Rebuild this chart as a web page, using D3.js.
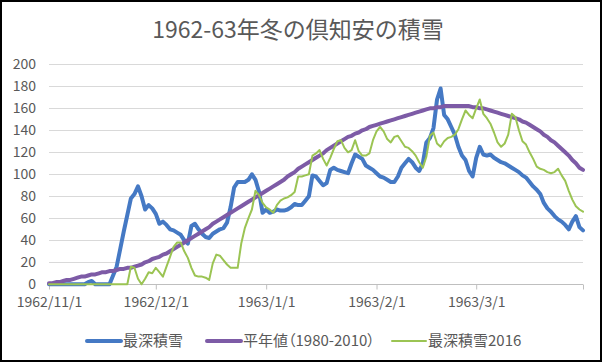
<!DOCTYPE html>
<meta charset="utf-8">
<script src="https://cdn.jsdelivr.net/npm/d3@7"></script>
<style>
  body { margin: 0; background: #fff; }
  text { font-family: "Noto Sans CJK JP", "Noto Sans", sans-serif; }
</style>
<div id="chart"></div>
<script>

// daily data from 1962/11/1 to 1963/3/31
var startDay = new Date(1962, 10, 1);

var seriesNames = ["最深積雪", "平年値（1980-2010）", "最深積雪2016"];

var snow6263 = [
  0,0,0,0,0,0,0,0,0,0, 0,2,3,0,0,0,0,0,8,16,
  32,48,63,78,82,89,80,68,72,69, 64,55,57,54,50,49,47,45,40,37,
  53,55,50,46,43,42,46,48,50,51, 56,70,88,93,93,93,95,100,95,84,
  65,68,65,66,68,67,67,68,70,73, 72,72,76,80,99,98,94,90,92,104,
  106,104,103,102,101,110,118,116,114,108, 106,104,101,98,97,95,93,93,98,106,
  110,114,111,106,103,110,129,133,142,168, 178,154,150,143,136,125,117,113,103,98,
  115,125,118,117,118,115,113,111,110,108, 106,104,102,99,97,93,89,86,82,74,
  69,66,62,59,57,54,50,57,62,52, 49
];

var normal = [
  1,1,2,2,3,4,4,5,6,7, 7,8,9,9,10,11,11,12,12,13,
  14,14,15,15,16,17,18,20,21,23, 24,25,27,28,30,32,34,36,38,40,
  42,44,46,48,50,52,55,57,59,61, 63,65,67,69,71,73,75,77,79,81,
  83,85,87,89,91,93,95,98,100,102, 105,107,109,111,113,115,117,119,122,124,
  126,128,130,132,134,135,137,138,140,141, 143,144,145,146,147,148,149,150,151,152,
  153,154,155,156,157,158,159,160,160,161, 161,162,162,162,162,162,162,162,162,161,
  161,160,160,159,158,157,156,155,154,153, 152,151,150,148,147,145,143,141,139,136,
  134,131,129,126,123,120,117,113,110,106, 104
];

var snow2016 = [
  0,0,0,0,0,0,0,0,0,0, 0,0,0,0,0,0,0,0,0,0,
  0,0,0,16,15,5,0,5,11,10, 15,11,7,16,25,34,38,38,30,24,
  15,8,7,7,6,4,19,27,26,22, 18,15,15,15,37,51,60,68,85,81,
  74,70,68,65,72,76,78,79,81,84, 98,98,99,100,117,119,122,114,108,115,
  123,130,131,124,120,122,131,121,117,117, 119,131,139,143,139,132,129,134,135,130,
  125,124,121,117,111,106,116,135,138,128, 125,130,133,134,136,141,150,158,154,151,
  160,168,155,151,146,138,129,125,128,136, 155,152,140,130,127,120,114,107,105,104,
  102,101,102,105,99,94,85,77,71,68, 66
];

var tickLabels = ["1962/11/1", "1962/12/1", "1963/1/1", "1963/2/1", "1963/3/1"];
var yTicks = [0, 20, 40, 60, 80, 100, 120, 140, 160, 180, 200];

var colors = ["#4579c4", "#7d5ba6", "#9bc453"];
var widths = [4, 4, 2];

var dates = snow6263.map(function(d, i) { return d3.timeDay.offset(startDay, i); });
var series = [snow6263, normal, snow2016];

var W = 602, H = 362;
var svg = d3.select("#chart").append("svg")
  .attr("width", W)
  .attr("height", H);

// outer border
svg.append("rect")
  .attr("x", 1).attr("y", 1)
  .attr("width", W - 2).attr("height", H - 2)
  .attr("fill", "#fff")
  .attr("stroke", "#000")
  .attr("stroke-width", 2);

var x = d3.scaleTime()
  .domain([startDay, dates[dates.length - 1]])
  .range([49, 583]);

var y = d3.scaleLinear()
  .domain([0, 200])
  .range([284.3, 64.3]);

// gridlines
svg.append("g")
  .selectAll("line")
  .data(yTicks.slice(1))
  .enter()
  .append("line")
    .attr("x1", 49).attr("x2", 583)
    .attr("y1", function(d) { return Math.round(y(d)) + 0.5; })
    .attr("y2", function(d) { return Math.round(y(d)) + 0.5; })
    .attr("stroke", "#d9d9d9")
    .attr("stroke-width", 1);

// y axis labels
svg.append("g")
  .selectAll("text")
  .data(yTicks)
  .enter()
  .append("text")
    .attr("x", 36)
    .attr("y", function(d) { return y(d); })
    .attr("dy", "0.35em")
    .attr("text-anchor", "end")
    .attr("font-size", 14)
    .attr("fill", "#595959")
    .text(function(d) { return d; });

// x axis
var monthTicks = tickLabels.map(function(s) {
  var p = s.split("/");
  return new Date(+p[0], +p[1] - 1, +p[2]);
});

var xAxis = svg.append("g")
  .attr("transform", "translate(0," + (Math.round(y(0)) + 0.5) + ")")
  .call(d3.axisBottom(x)
    .tickValues(monthTicks.concat([dates[dates.length - 1]]))
    .tickSize(5)
    .tickFormat(function(d, i) { return tickLabels[i] || ""; }));

xAxis.select(".domain").attr("stroke", "#bfbfbf").attr("d", "M49,0H583");
xAxis.selectAll(".tick line").attr("stroke", "#bfbfbf");
xAxis.selectAll(".tick text")
  .attr("font-family", "Noto Sans CJK JP")
  .attr("font-size", 14)
  .attr("fill", "#595959")
  .attr("y", 13);

// lines
var line = d3.line()
  .x(function(d, i) { return x(dates[i]); })
  .y(function(d) { return y(d); });

series.forEach(function(s, k) {
  svg.append("path")
    .datum(s)
    .attr("fill", "none")
    .attr("stroke", colors[k])
    .attr("stroke-width", widths[k])
    .attr("stroke-linejoin", "round")
    .attr("stroke-linecap", "round")
    .attr("d", line);
});

// title
svg.append("text")
  .attr("x", 298)
  .attr("y", 38)
  .attr("text-anchor", "middle")
  .attr("font-size", 23)
  .attr("fill", "#595959")
  .text("1962-63年冬の倶知安の積雪");

// legend
var legendX = [87, 207, 392];
var legend = svg.append("g");
seriesNames.forEach(function(name, k) {
  legend.append("line")
    .attr("x1", legendX[k]).attr("x2", legendX[k] + 34)
    .attr("y1", 341).attr("y2", 341)
    .attr("stroke", colors[k])
    .attr("stroke-width", widths[k])
    .attr("stroke-linecap", "round");
  legend.append("text")
    .attr("x", legendX[k] + 36)
    .attr("y", 341)
    .attr("dy", "0.35em")
    .attr("font-size", 15)
    .attr("fill", "#595959")
    .style("font-feature-settings", "'palt'")
    .text(name);
});

</script>
